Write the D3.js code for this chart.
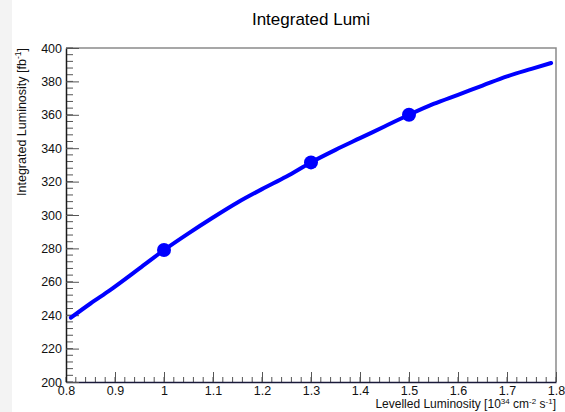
<!DOCTYPE html>
<html>
<head>
<meta charset="utf-8">
<script src="https://cdn.jsdelivr.net/npm/d3@7"></script>
<style>
  html, body { margin: 0; padding: 0; background: #fff; }
  svg { display: block; font-family: "Liberation Sans", Arial, Helvetica, sans-serif; }
</style>
</head>
<body>
<svg id="chart" width="565" height="412"></svg>
<script>
// Integrated luminosity vs levelled luminosity
const curveX = [0.81, 0.85, 0.89, 0.95, 1.00, 1.05, 1.10, 1.15, 1.20, 1.25, 1.30,
                1.35, 1.40, 1.45, 1.50, 1.55, 1.60, 1.65, 1.70, 1.75, 1.79];
const curveY = [238.5, 247, 255, 268, 279, 289, 298.5, 307.5, 315.5, 323, 331.5,
                339, 346, 353, 360, 366.5, 372, 377.5, 383, 387.5, 391];
const markerX = [1.0, 1.3, 1.5];
const markerY = [279, 331.5, 360];
const xTicks = [0.8, 0.9, 1.0, 1.1, 1.2, 1.3, 1.4, 1.5, 1.6, 1.7, 1.8];
const yTicks = [200, 220, 240, 260, 280, 300, 320, 340, 360, 380, 400];

const svg = d3.select("#chart");
const padL = 66, padR = 556, padT = 48, padB = 382;

const x = d3.scaleLinear().domain([0.8, 1.8]).range([padL, padR]);
const y = d3.scaleLinear().domain([200, 400]).range([padB, padT]);

// light strip at the left edge of the canvas
svg.append("rect").attr("x", 0).attr("y", 0).attr("width", 12).attr("height", 412)
  .attr("fill", "#f3f3f3");

// frame (top and right)
svg.append("path")
  .attr("d", `M${padL},${padT}H${padR}V${padB}`)
  .attr("fill", "none").attr("stroke", "#8a8a8a").attr("stroke-width", 1.5);

// minor ticks
const xMinor = d3.range(0, 51).map(i => 0.8 + i * 0.02);
const yMinor = d3.range(0, 51).map(i => 200 + i * 4);

svg.append("g").selectAll("line").data(xMinor).join("line")
  .attr("x1", d => x(d)).attr("x2", d => x(d))
  .attr("y1", padB).attr("y2", padB - 5)
  .attr("stroke", "#555").attr("stroke-width", 1);
svg.append("g").selectAll("line").data(yMinor).join("line")
  .attr("x1", padL).attr("x2", padL + 7)
  .attr("y1", d => y(d)).attr("y2", d => y(d))
  .attr("stroke", "#555").attr("stroke-width", 1);

// major ticks drawn inward through d3 axes
const xAxis = d3.axisBottom(x).tickValues(xTicks).tickSizeInner(-10).tickSizeOuter(0)
  .tickPadding(4).tickFormat(d => d3.format("")(+d.toFixed(1)));
const gx = svg.append("g").attr("transform", `translate(0,${padB})`).call(xAxis);
gx.select(".domain").attr("stroke", "#1a1a3a").attr("stroke-width", 1.5);
gx.selectAll(".tick line").attr("stroke", "#555");
gx.selectAll(".tick text").attr("font-size", 12.5).attr("fill", "#111")
  .attr("font-family", "Liberation Sans, Arial, sans-serif");

const yAxis = d3.axisLeft(y).tickValues(yTicks).tickSizeInner(-13).tickSizeOuter(0)
  .tickPadding(4);
const gy = svg.append("g").attr("transform", `translate(${padL},0)`).call(yAxis);
gy.select(".domain").attr("stroke", "#1a1a1a").attr("stroke-width", 1.5);
gy.selectAll(".tick line").attr("stroke", "#555");
gy.selectAll(".tick text").attr("font-size", 12.5).attr("fill", "#111")
  .attr("font-family", "Liberation Sans, Arial, sans-serif");

// curve
const line = d3.line().x((d, i) => x(curveX[i])).y(d => y(d)).curve(d3.curveMonotoneX);
svg.append("path").datum(curveY)
  .attr("d", line)
  .attr("fill", "none").attr("stroke", "#0000ff").attr("stroke-width", 4)
  .attr("stroke-linecap", "round");

// markers
svg.append("g").selectAll("circle").data(markerY).join("circle")
  .attr("cx", (d, i) => x(markerX[i])).attr("cy", d => y(d)).attr("r", 7)
  .attr("fill", "#0000ff");

// title
svg.append("text").attr("x", 311).attr("y", 25).attr("text-anchor", "middle")
  .attr("font-size", 17).attr("fill", "#000").text("Integrated Lumi");

// x axis title
const xt = svg.append("text").attr("x", padR).attr("y", 408).attr("text-anchor", "end")
  .attr("font-size", 12).attr("fill", "#111");
xt.append("tspan").text("Levelled Luminosity [10");
xt.append("tspan").attr("dy", -4).attr("font-size", 8).text("34");
xt.append("tspan").attr("dy", 4).text(" cm");
xt.append("tspan").attr("dy", -4).attr("font-size", 8).text("-2");
xt.append("tspan").attr("dy", 4).text(" s");
xt.append("tspan").attr("dy", -4).attr("font-size", 8).text("-1");
xt.append("tspan").attr("dy", 4).text("]");

// y axis title
const yt = svg.append("text").attr("transform", `translate(26,${padT}) rotate(-90)`)
  .attr("text-anchor", "end").attr("font-size", 12.5).attr("fill", "#111");
yt.append("tspan").text("Integrated Luminosity [fb");
yt.append("tspan").attr("dy", -5).attr("font-size", 8.5).text("-1");
yt.append("tspan").attr("dy", 5).text("]");
</script>
</body>
</html>
